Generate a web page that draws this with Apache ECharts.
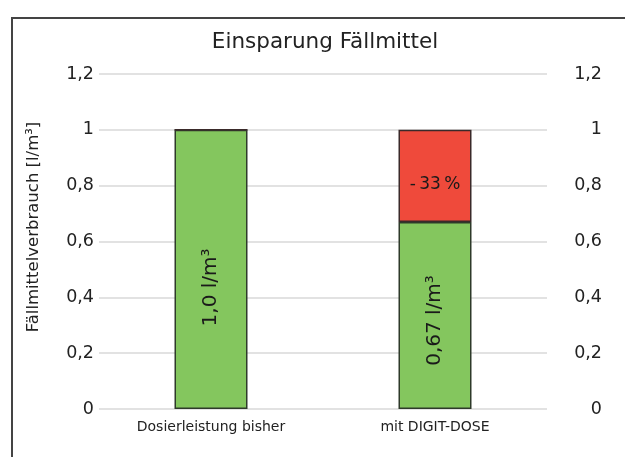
<!DOCTYPE html>
<html><head><meta charset="utf-8">
<script src="https://cdn.jsdelivr.net/npm/echarts@6/dist/echarts.min.js"></script>
<style>html,body{margin:0;padding:0;background:#fff}#c{width:625px;height:457px}</style>
</head><body><div id="c"></div>
<script>
const categories = ['Dosierleistung bisher', 'mit DIGIT-DOSE'];
const usedValues = [1.0, 0.67];
const savedValues = [0, 0.33];
const usedLabels = ['1,0 l/m³', '0,67 l/m³'];
const savedLabels = ['', '-\u200933\u2009%'];
const yTicks = [0, 0.2, 0.4, 0.6, 0.8, 1, 1.2];

const fmt = v => String(Math.round(v * 10) / 10).replace('.', ',');
const chart = echarts.init(document.getElementById('c'));
const FONT = 'DejaVu Sans';
const usedLabelShift = [[-18, 0], [-5, 0]];
const yAxisBase = {
  type: 'value', min: yTicks[0], max: yTicks[yTicks.length - 1], interval: 0.2,
  axisLine: { show: false }, axisTick: { show: false },
  axisLabel: { fontFamily: FONT, fontSize: 17.5, color: '#222', formatter: fmt }
};
chart.setOption({
  animation: false,
  textStyle: { fontFamily: FONT },
  graphic: [
    { type: 'rect', shape: { x: 12, y: 18, width: 640, height: 470 }, style: { fill: 'none', stroke: '#444', lineWidth: 2 }, z: 0 },
    { type: 'text', x: 325, y: 42, style: { text: 'Einsparung Fällmittel', fontFamily: FONT, fontSize: 21.5, fill: '#222', align: 'center', verticalAlign: 'middle' }, z: 10 },
    { type: 'text', x: 33.5, y: 227, rotation: Math.PI / 2, style: { text: 'Fällmittelverbrauch [l/m³]', fontFamily: FONT, fontSize: 16.5, fill: '#222', align: 'center', verticalAlign: 'middle' } }
  ],
  grid: { left: 99, right: 78, top: 74, bottom: 48 },
  xAxis: {
    type: 'category', data: categories,
    axisLine: { show: false }, axisTick: { show: false },
    axisLabel: { fontFamily: FONT, fontSize: 14, color: '#222', margin: 11 }
  },
  yAxis: [
    Object.assign({}, yAxisBase, {
      position: 'left',
      axisLabel: Object.assign({}, yAxisBase.axisLabel, { margin: 5 }),
      splitLine: { show: true, lineStyle: { color: '#e2e2e2', width: 2 } }
    }),
    Object.assign({}, yAxisBase, {
      position: 'right',
      axisLabel: Object.assign({}, yAxisBase.axisLabel, { margin: 55, align: 'right' }),
      splitLine: { show: false }
    })
  ],
  series: [
    {
      type: 'bar', stack: 's', barWidth: 73,
      data: usedValues.map((v, i) => ({ value: v, label: { offset: usedLabelShift[i] } })),
      itemStyle: { color: '#84c65e', borderColor: '#2e3a2a', borderWidth: 1.5 },
      label: {
        show: true, position: 'inside', rotate: 90, fontFamily: FONT, fontSize: 20, color: '#1a1a1a',
        formatter: p => usedLabels[p.dataIndex]
      }
    },
    {
      type: 'bar', stack: 's', data: savedValues, barWidth: 73,
      itemStyle: { color: '#ef4a3b', borderColor: '#3a2a2a', borderWidth: 1.5 },
      label: {
        show: true, position: 'inside', fontFamily: FONT, fontSize: 17, color: '#1a1a1a',
        formatter: p => savedLabels[p.dataIndex], offset: [0, 9]
      }
    }
  ]
});
</script></body></html>
